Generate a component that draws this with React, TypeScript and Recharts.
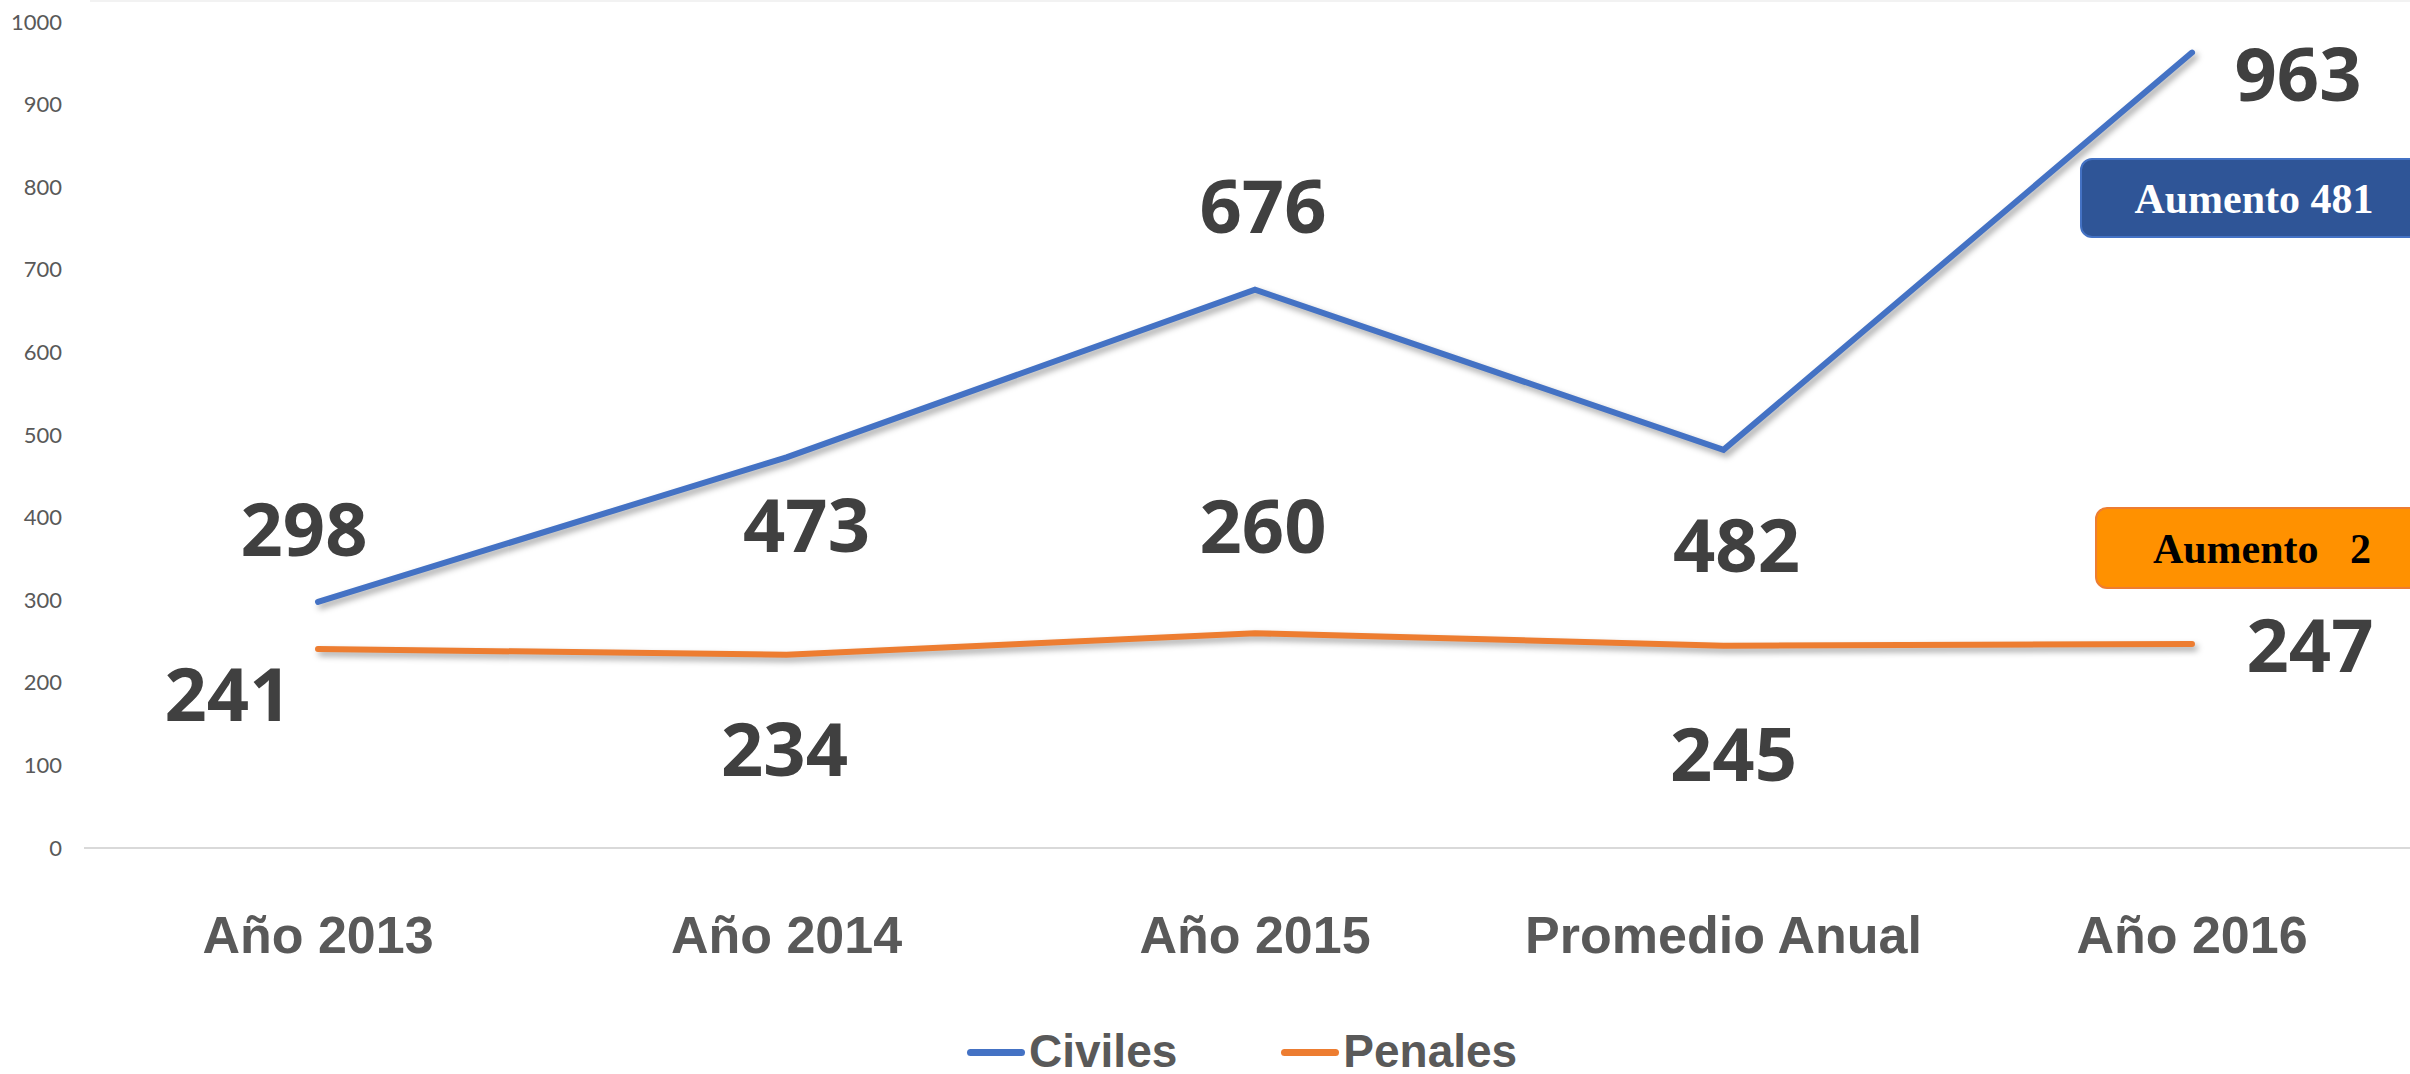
import React from "react";
import { LineChart, Line, XAxis, YAxis, LabelList } from "recharts";

const categories = ["Año 2013", "Año 2014", "Año 2015", "Promedio Anual", "Año 2016"];
const civiles = [298, 473, 676, 482, 963];
const penales = [241, 234, 260, 245, 247];
const yTicks = [0, 100, 200, 300, 400, 500, 600, 700, 800, 900, 1000];
const seriesNames = ["Civiles", "Penales"];
const boxTexts = ["Aumento 481", "Aumento\u00a0\u00a0\u00a02"];

const data = categories.map((c, i) => ({ name: c, civiles: civiles[i], penales: penales[i] }));

const BLUE = "#4472c4";
const ORANGE = "#ed7d31";

const civOffsets = [[-14, -72], [20, 69], [8, -83], [13, 96], [106, 22]];
const penOffsets = [[-90, 46], [-2, 95], [8, -106], [10, 109], [118, 2]];

const makeLabel = (offsets: number[][]) => (props: any) => {
  const { x, y, value, index } = props;
  const [dx, dy] = offsets[index] || [0, 0];
  return (
    <text
      x={x + dx}
      y={y + dy + 26}
      textAnchor="middle"
      fontFamily="'Open Sans', sans-serif"
      fontWeight={700}
      fontSize={74}
      fill="#404040"
    >
      {value}
    </text>
  );
};

const XTick = (props: any) => {
  const { x, y, payload } = props;
  return (
    <text
      x={x}
      y={y + 97}
      textAnchor="middle"
      fontFamily="'Liberation Sans', Arial, sans-serif"
      fontWeight={700}
      fontSize={52}
      fill="#595959"
    >
      {payload.value}
    </text>
  );
};

const YTick = (props: any) => {
  const { y, payload } = props;
  return (
    <text
      x={62}
      y={y + 7.5}
      textAnchor="end"
      fontFamily="Lato, 'Open Sans', sans-serif"
      fontSize={22}
      fill="#595959"
    >
      {payload.value}
    </text>
  );
};

export default function App() {
  return (
    <div
      style={{
        position: "absolute",
        left: 0,
        top: 0,
        width: 2410,
        height: 1074,
        overflow: "hidden",
        background: "#ffffff",
      }}
    >
      <style>{`.recharts-line-curve{filter:drop-shadow(3px 4px 3px rgba(0,0,0,0.35));}`}</style>
      <div style={{ position: "absolute", left: 90, top: 0, width: 2320, height: 2, background: "#f2f2f2" }} />
      <LineChart
        width={2426}
        height={1074}
        data={data}
        margin={{ top: 22, right: 0, bottom: 0, left: 0 }}
      >
        <XAxis
          dataKey="name"
          height={226}
          padding={{ left: 234, right: 234 }}
          axisLine={{ stroke: "#d9d9d9", strokeWidth: 2 }}
          tickLine={false}
          tick={<XTick />}
          interval={0}
        />
        <YAxis
          width={84}
          domain={[0, 1000]}
          ticks={yTicks}
          axisLine={false}
          tickLine={false}
          tick={<YTick />}
          interval={0}
        />
        <Line
          dataKey="civiles"
          name={seriesNames[0]}
          stroke={BLUE}
          strokeWidth={6}
          dot={false}
          activeDot={false}
          isAnimationActive={false}
          strokeLinecap="round"
        >
          <LabelList dataKey="civiles" content={makeLabel(civOffsets)} />
        </Line>
        <Line
          dataKey="penales"
          name={seriesNames[1]}
          stroke={ORANGE}
          strokeWidth={6}
          dot={false}
          activeDot={false}
          isAnimationActive={false}
          strokeLinecap="round"
        >
          <LabelList dataKey="penales" content={makeLabel(penOffsets)} />
        </Line>
      </LineChart>

      {/* Annotation boxes */}
      <div
        style={{
          position: "absolute",
          left: 2080,
          top: 158,
          width: 360,
          height: 80,
          background: "#2f5597",
          border: "2px solid #4472c4",
          borderRadius: 12,
          boxSizing: "border-box",
        }}
      >
        <div
          style={{
            position: "absolute",
            left: 0,
            width: 344,
            top: 0,
            height: 80,
            lineHeight: "78px",
            textAlign: "center",
            fontFamily: "'Liberation Serif', 'Times New Roman', serif",
            fontWeight: 700,
            fontSize: 42,
            color: "#ffffff",
            whiteSpace: "pre",
          }}
        >
          {boxTexts[0]}
        </div>
      </div>
      <div
        style={{
          position: "absolute",
          left: 2095,
          top: 507,
          width: 360,
          height: 82,
          background: "#ff9100",
          border: "2px solid #ed7d31",
          borderRadius: 12,
          boxSizing: "border-box",
        }}
      >
        <div
          style={{
            position: "absolute",
            left: 0,
            width: 330,
            top: 0,
            height: 80,
            lineHeight: "80px",
            textAlign: "center",
            fontFamily: "'Liberation Serif', 'Times New Roman', serif",
            fontWeight: 700,
            fontSize: 42,
            color: "#000000",
            whiteSpace: "pre",
          }}
        >
          {boxTexts[1]}
        </div>
      </div>

      {/* Legend */}
      <div
        style={{
          position: "absolute",
          left: 967,
          top: 1028,
          height: 46,
          lineHeight: "46px",
          display: "flex",
          alignItems: "center",
          fontFamily: "'Liberation Sans', Arial, sans-serif",
          fontWeight: 700,
          fontSize: 46,
          color: "#595959",
          whiteSpace: "nowrap",
        }}
      >
        {seriesNames.map((n, i) => (
          <div key={n} style={{ display: "flex", alignItems: "center", marginRight: i === 0 ? 104 : 0 }}>
            <div
              style={{
                width: 58,
                height: 7,
                borderRadius: 4,
                marginTop: 3,
                background: i === 0 ? BLUE : ORANGE,
                marginRight: 4,
              }}
            />
            <span>{n}</span>
          </div>
        ))}
      </div>
    </div>
  );
}
